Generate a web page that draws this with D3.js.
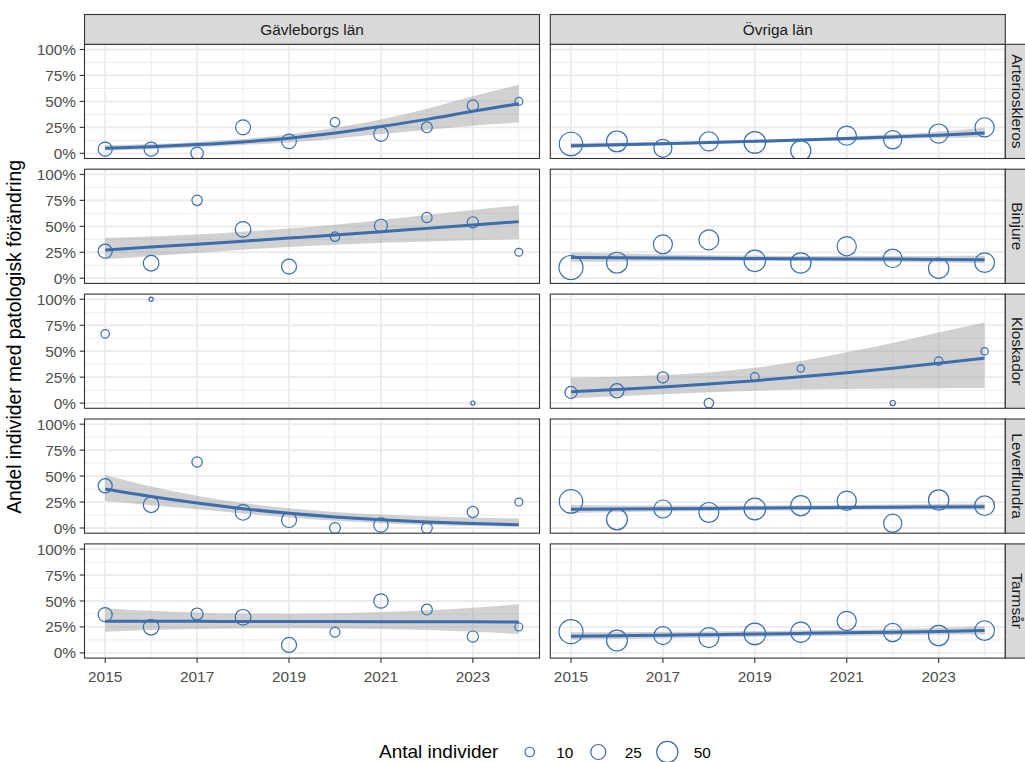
<!DOCTYPE html>
<html><head><meta charset="utf-8">
<script src="https://cdn.jsdelivr.net/npm/d3@7"></script>
<style>body{margin:0;background:#fff}svg{display:block}text{font-family:"Liberation Sans",Arial,Helvetica,sans-serif}</style>
</head><body><svg id="c" width="1025" height="762"></svg>
<script>
// ---------- data ----------
const years = [2015, 2016, 2017, 2018, 2019, 2020, 2021, 2022, 2023, 2024];
const xTickYears = [2015, 2017, 2019, 2021, 2023];
const yTickVals = [0, 0.25, 0.5, 0.75, 1];
const yTickLabels = ["0%", "25%", "50%", "75%", "100%"];
const columns = ["Gävleborgs län", "Övriga län"];
const rowsLbl = ["Arterioskleros", "Binjure", "Kloskador", "Leverflundra", "Tarmsår"];
const legendTitle = "Antal individer";
const legendVals = [10, 25, 50];
const yTitle = "Andel individer med patologisk förändring";

// Gävleborgs län – Arterioskleros
const gArtPct = [0.04, 0.04, 0.0, 0.25, 0.115, 0.30, 0.185, 0.25, 0.46, 0.50];
const gArtN   = [22, 22, 17, 25, 24, 10, 23, 13, 14, 7];
const gArtFit = [0.048, 0.063, 0.084, 0.11, 0.145, 0.195, 0.258, 0.327, 0.405, 0.478];
const gArtLo  = [0.027, 0.04, 0.058, 0.08, 0.105, 0.14, 0.185, 0.225, 0.265, 0.297];
const gArtHi  = [0.077, 0.09, 0.11, 0.138, 0.18, 0.245, 0.325, 0.43, 0.55, 0.66];
// Övriga län – Arterioskleros
const oArtPct = [0.09, 0.115, 0.048, 0.115, 0.105, 0.026, 0.17, 0.13, 0.19, 0.25];
const oArtN   = [61, 48, 36, 41, 52, 45, 41, 37, 41, 41];
const oArtFit = [0.073, 0.082, 0.092, 0.103, 0.115, 0.128, 0.142, 0.158, 0.175, 0.195];
const oArtLo  = [0.052, 0.064, 0.077, 0.09, 0.102, 0.113, 0.124, 0.136, 0.147, 0.155];
const oArtHi  = [0.10, 0.103, 0.108, 0.117, 0.129, 0.143, 0.16, 0.18, 0.207, 0.245];
// Gävleborgs län – Binjure
const gBinPct = [0.26, 0.144, 0.75, 0.47, 0.112, 0.40, 0.505, 0.585, 0.538, 0.25];
const gBinN   = [22, 27, 12, 27, 25, 10, 19, 12, 14, 7];
const gBinFit = [0.272, 0.30, 0.327, 0.356, 0.387, 0.416, 0.448, 0.48, 0.512, 0.545];
const gBinLo  = [0.182, 0.214, 0.246, 0.275, 0.301, 0.323, 0.341, 0.354, 0.366, 0.375];
const gBinHi  = [0.387, 0.401, 0.421, 0.448, 0.48, 0.515, 0.56, 0.608, 0.657, 0.70];
// Övriga län – Binjure
const oBinPct = [0.103, 0.15, 0.327, 0.369, 0.167, 0.147, 0.308, 0.192, 0.096, 0.15];
const oBinN   = [64, 48, 40, 44, 51, 46, 41, 38, 46, 43];
const oBinFit = [0.199, 0.197, 0.195, 0.193, 0.19, 0.188, 0.186, 0.184, 0.181, 0.179];
const oBinLo  = [0.158, 0.162, 0.165, 0.166, 0.165, 0.163, 0.16, 0.156, 0.151, 0.145];
const oBinHi  = [0.247, 0.237, 0.228, 0.222, 0.218, 0.215, 0.214, 0.214, 0.215, 0.217];
// Gävleborgs län – Kloskador (no trend)
const gKloPct = [0.667, 1.0, null, null, null, null, null, null, 0.0, null];
const gKloN   = [8, 2, null, null, null, null, null, null, 2, null];
// Övriga län – Kloskador
const oKloPct = [0.103, 0.119, 0.247, 0.0, 0.253, 0.333, null, 0.0, 0.404, 0.50];
const oKloN   = [16, 22, 14, 10, 8, 6, null, 3, 8, 6];
const oKloFit = [0.109, 0.13, 0.155, 0.184, 0.216, 0.253, 0.293, 0.336, 0.384, 0.433];
const oKloLo  = [0.045, 0.065, 0.085, 0.105, 0.12, 0.13, 0.135, 0.14, 0.143, 0.145];
const oKloHi  = [0.247, 0.255, 0.27, 0.295, 0.34, 0.405, 0.49, 0.58, 0.68, 0.776];
// Gävleborgs län – Leverflundra
const gLevPct = [0.407, 0.224, 0.636, 0.15, 0.077, 0.0, 0.029, 0.0, 0.154, 0.25];
const gLevN   = [22, 27, 12, 27, 25, 13, 23, 13, 14, 7];
const gLevFit = [0.375, 0.303, 0.24, 0.186, 0.142, 0.107, 0.08, 0.059, 0.044, 0.032];
const gLevLo  = [0.26, 0.22, 0.18, 0.14, 0.102, 0.071, 0.047, 0.03, 0.019, 0.011];
const gLevHi  = [0.51, 0.40, 0.31, 0.24, 0.19, 0.155, 0.13, 0.113, 0.10, 0.093];
// Övriga län – Leverflundra
const oLevPct = [0.256, 0.083, 0.183, 0.15, 0.183, 0.215, 0.263, 0.045, 0.27, 0.215];
const oLevN   = [61, 48, 36, 44, 52, 45, 41, 37, 46, 43];
const oLevFit = [0.18, 0.183, 0.186, 0.189, 0.192, 0.195, 0.198, 0.20, 0.203, 0.205];
const oLevLo  = [0.144, 0.151, 0.158, 0.164, 0.168, 0.172, 0.175, 0.177, 0.177, 0.176];
const oLevHi  = [0.222, 0.218, 0.216, 0.216, 0.217, 0.219, 0.222, 0.226, 0.231, 0.237];
// Gävleborgs län – Tarmsår
const gTarPct = [0.369, 0.247, 0.375, 0.343, 0.077, 0.20, 0.50, 0.417, 0.157, 0.25];
const gTarN   = [22, 27, 16, 27, 25, 11, 23, 13, 14, 7];
const gTarFit = [0.305, 0.304, 0.304, 0.303, 0.303, 0.302, 0.301, 0.30, 0.299, 0.298];
const gTarLo  = [0.205, 0.22, 0.23, 0.236, 0.238, 0.236, 0.23, 0.22, 0.203, 0.183];
const gTarHi  = [0.43, 0.405, 0.39, 0.38, 0.378, 0.382, 0.393, 0.41, 0.435, 0.468];
// Övriga län – Tarmsår
const oTarPct = [0.205, 0.119, 0.167, 0.147, 0.183, 0.199, 0.308, 0.196, 0.167, 0.215];
const oTarN   = [64, 48, 36, 44, 52, 45, 41, 37, 46, 43];
const oTarFit = [0.16, 0.165, 0.17, 0.176, 0.182, 0.188, 0.194, 0.20, 0.207, 0.215];
const oTarLo  = [0.126, 0.133, 0.14, 0.147, 0.154, 0.16, 0.166, 0.171, 0.175, 0.177];
const oTarHi  = [0.20, 0.20, 0.203, 0.207, 0.211, 0.216, 0.222, 0.23, 0.24, 0.256];

const panelsData = [
  [[gArtPct, gArtN, gArtFit, gArtLo, gArtHi], [oArtPct, oArtN, oArtFit, oArtLo, oArtHi]],
  [[gBinPct, gBinN, gBinFit, gBinLo, gBinHi], [oBinPct, oBinN, oBinFit, oBinLo, oBinHi]],
  [[gKloPct, gKloN, null, null, null], [oKloPct, oKloN, oKloFit, oKloLo, oKloHi]],
  [[gLevPct, gLevN, gLevFit, gLevLo, gLevHi], [oLevPct, oLevN, oLevFit, oLevLo, oLevHi]],
  [[gTarPct, gTarN, gTarFit, gTarLo, gTarHi], [oTarPct, oTarN, oTarFit, oTarLo, oTarHi]]
];

// ---------- layout ----------
const col = "#3a6ead";
const colX0 = [84.5, 550.3], panelW = 455;
const rowY0 = 44.3, rowPitch = 124.9, panelH = 114.2;
const stripTop = 14.5;
const svg = d3.select("#c");

const rScale = d3.scaleSqrt().domain([0, 50]).range([0, 10.6]);
const fs = 15.4;

rowsLbl.forEach((rl, ri) => {
  const y0 = rowY0 + ri * rowPitch;
  const y = d3.scaleLinear().domain([-0.05, 1.05]).range([y0 + panelH, y0]);
  columns.forEach((cl, ci) => {
    const x0 = colX0[ci];
    const x = d3.scaleLinear().domain([2015 - 0.45, 2024 + 0.45]).range([x0, x0 + panelW]);
    const g = svg.append("g");
    const cid = "clip" + ri + "_" + ci;
    svg.append("clipPath").attr("id", cid).append("rect")
      .attr("x", x0).attr("y", y0).attr("width", panelW).attr("height", panelH);
    g.append("rect").attr("x", x0).attr("y", y0).attr("width", panelW).attr("height", panelH).attr("fill", "#fff");
    // minor grid
    [0.125, 0.375, 0.625, 0.875].forEach(v => g.append("line").attr("x1", x0).attr("x2", x0 + panelW)
      .attr("y1", y(v)).attr("y2", y(v)).attr("stroke", "#ebebeb").attr("stroke-width", 0.9));
    [2016, 2018, 2020, 2022, 2024].forEach(v => g.append("line").attr("y1", y0).attr("y2", y0 + panelH)
      .attr("x1", x(v)).attr("x2", x(v)).attr("stroke", "#ebebeb").attr("stroke-width", 0.9));
    // major grid
    yTickVals.forEach(v => g.append("line").attr("x1", x0).attr("x2", x0 + panelW)
      .attr("y1", y(v)).attr("y2", y(v)).attr("stroke", "#ebebeb").attr("stroke-width", 1.8));
    xTickYears.forEach(v => g.append("line").attr("y1", y0).attr("y2", y0 + panelH)
      .attr("x1", x(v)).attr("x2", x(v)).attr("stroke", "#ebebeb").attr("stroke-width", 1.8));

    const [pct, nn, fit, lo, hi] = panelsData[ri][ci];
    const cg = g.append("g").attr("clip-path", "url(#" + cid + ")");
    if (fit) {
      const rows = years.map((yr, i) => ({yr, f: fit[i], l: lo[i], h: hi[i]}));
      cg.append("path").datum(rows)
        .attr("d", d3.area().x(d => x(d.yr)).y0(d => y(d.l)).y1(d => y(d.h)).curve(d3.curveMonotoneX))
        .attr("fill", "#999").attr("fill-opacity", 0.45);
      cg.append("path").datum(rows)
        .attr("d", d3.line().x(d => x(d.yr)).y(d => y(d.f)).curve(d3.curveMonotoneX))
        .attr("fill", "none").attr("stroke", col).attr("stroke-width", 3);
    }
    const pts = years.map((yr, i) => ({yr, p: pct[i], n: nn[i]})).filter(d => d.p !== null);
    cg.selectAll("circle.pt").data(pts).enter().append("circle")
      .attr("cx", d => x(d.yr)).attr("cy", d => y(d.p)).attr("r", d => rScale(d.n))
      .attr("fill", "none").attr("stroke", col).attr("stroke-width", 1.2);

    // border
    g.append("rect").attr("x", x0).attr("y", y0).attr("width", panelW).attr("height", panelH)
      .attr("fill", "none").attr("stroke", "#333").attr("stroke-width", 1.1);

    // y axis
    if (ci === 0) {
      yTickVals.forEach((v, k) => {
        g.append("line").attr("x1", x0 - 4.8).attr("x2", x0).attr("y1", y(v)).attr("y2", y(v))
          .attr("stroke", "#333").attr("stroke-width", 1.1);
        g.append("text").attr("x", x0 - 8.5).attr("y", y(v)).attr("dy", "0.36em")
          .attr("text-anchor", "end").attr("font-size", fs).attr("fill", "#4d4d4d").text(yTickLabels[k]);
      });
    }
    // x axis
    if (ri === rowsLbl.length - 1) {
      xTickYears.forEach(v => {
        g.append("line").attr("x1", x(v)).attr("x2", x(v)).attr("y1", y0 + panelH).attr("y2", y0 + panelH + 4.8)
          .attr("stroke", "#333").attr("stroke-width", 1.1);
        g.append("text").attr("x", x(v)).attr("y", y0 + panelH + 24)
          .attr("text-anchor", "middle").attr("font-size", fs).attr("fill", "#4d4d4d").text(v);
      });
    }
    // top strips
    if (ri === 0) {
      g.append("rect").attr("x", x0).attr("y", stripTop).attr("width", panelW).attr("height", y0 - stripTop)
        .attr("fill", "#d9d9d9").attr("stroke", "#333").attr("stroke-width", 1.1);
      g.append("text").attr("x", x0 + panelW / 2).attr("y", (stripTop + y0) / 2).attr("dy", "0.36em")
        .attr("text-anchor", "middle").attr("font-size", fs).attr("fill", "#1a1a1a").text(cl);
    }
    // right strips
    if (ci === 1) {
      const sx = x0 + panelW;
      g.append("rect").attr("x", sx).attr("y", y0).attr("width", 29.8).attr("height", panelH)
        .attr("fill", "#d9d9d9").attr("stroke", "#333").attr("stroke-width", 1.1);
      g.append("text").attr("transform", `translate(${sx + 12},${y0 + panelH / 2}) rotate(90)`)
        .attr("dy", "0.36em").attr("text-anchor", "middle").attr("font-size", fs).attr("fill", "#1a1a1a").text(rl);
    }
  });
});

// y title
svg.append("text").attr("transform", "translate(21,337) rotate(-90)")
  .attr("text-anchor", "middle").attr("font-size", 19.3).attr("fill", "#000").text(yTitle);

// legend
const lg = svg.append("g");
lg.append("text").attr("x", 379).attr("y", 757.5).attr("font-size", 19).attr("fill", "#000").text(legendTitle);
const legX = [529.7, 598.3, 667.3];
legendVals.forEach((v, i) => {
  lg.append("circle").attr("cx", legX[i]).attr("cy", 752).attr("r", rScale(v))
    .attr("fill", "none").attr("stroke", col).attr("stroke-width", 1.2);
  lg.append("text").attr("x", legX[i] + 26.5).attr("y", 752).attr("dy", "0.36em")
    .attr("font-size", fs).attr("fill", "#000").text(v);
});
</script></body></html>
